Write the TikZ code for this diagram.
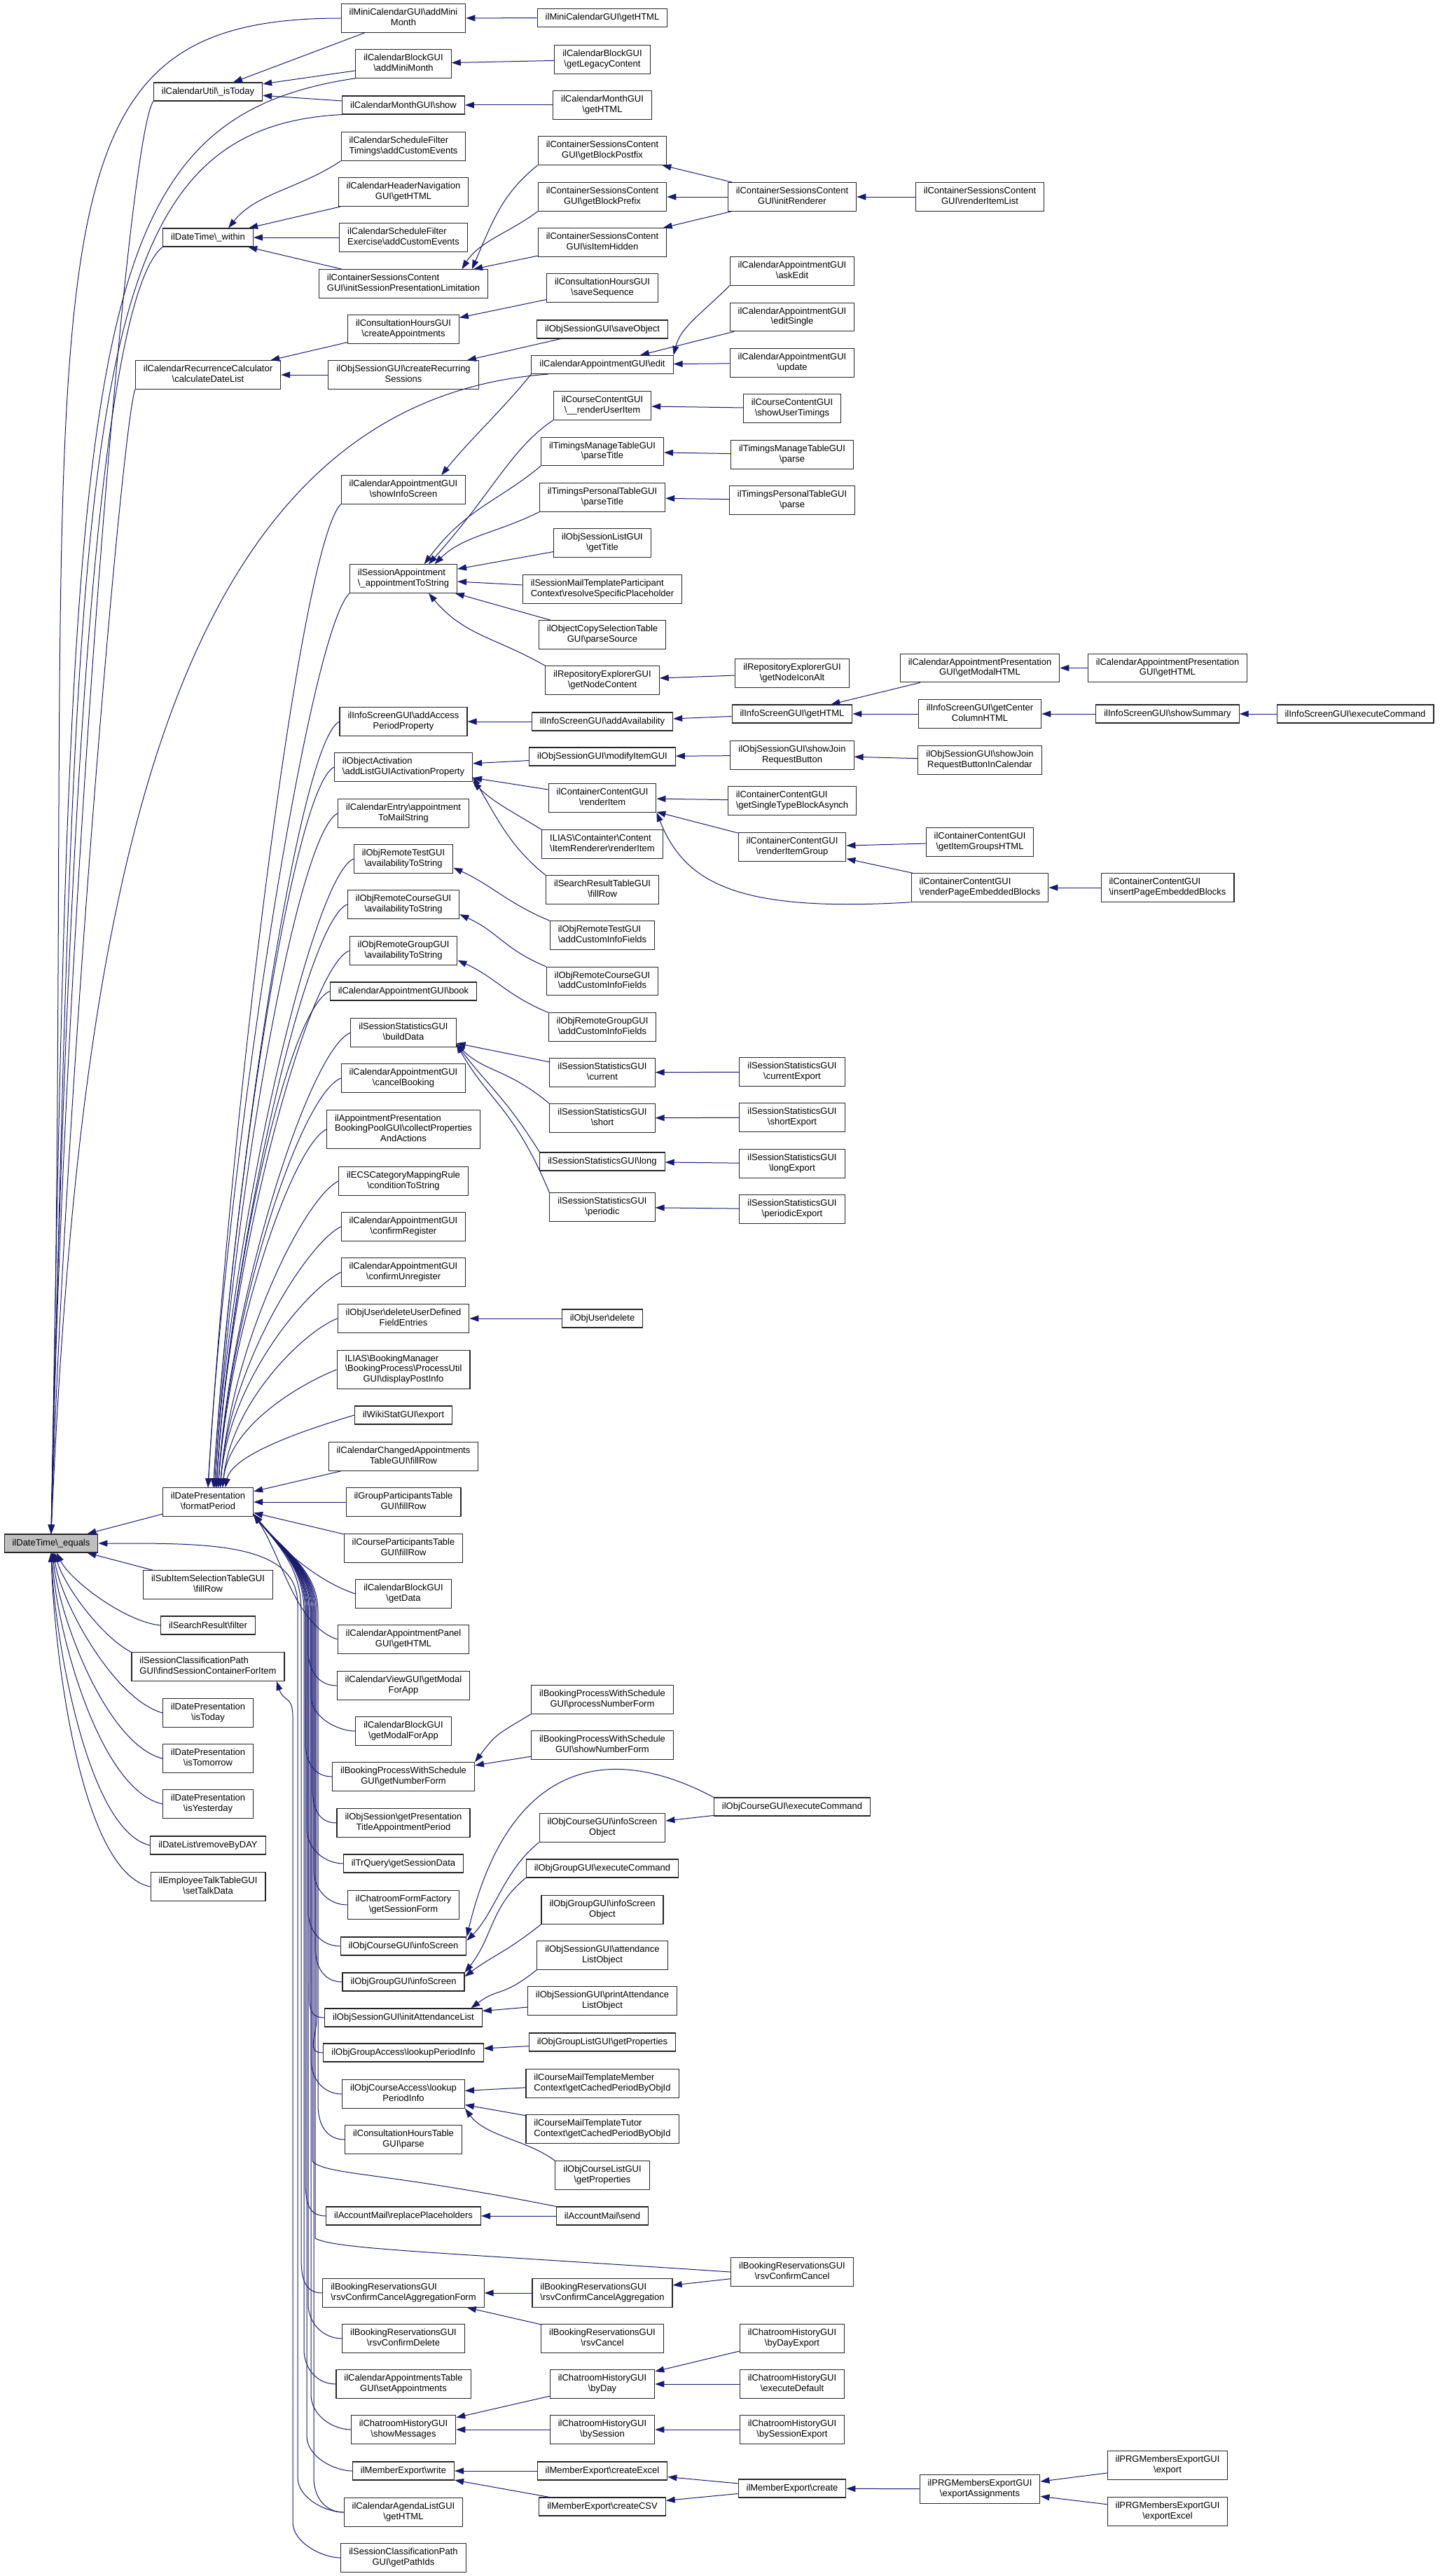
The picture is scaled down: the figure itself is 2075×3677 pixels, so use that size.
\documentclass[tikz,border=0pt]{standalone}
\usepackage{fontspec}
\setmainfont{Liberation Sans}
\usetikzlibrary{arrows.meta}
\definecolor{edgeblue}{HTML}{191970}
\definecolor{mainfill}{HTML}{BFBFBF}
\newcommand\bsh{\textbackslash}
\newcommand\lbtwo[2]{\begin{tabular}{@{}c@{}}\multicolumn{1}{@{}l@{}}{#1}\\#2\end{tabular}}
\newcommand\lbthree[3]{\begin{tabular}{@{}c@{}}\multicolumn{1}{@{}l@{}}{#1}\\\multicolumn{1}{@{}l@{}}{#2}\\#3\end{tabular}}

\begin{document}
\begin{tikzpicture}[x=1pt, y=-1pt,
  fn/.style={draw=black!85, line width=1.1pt, fill=white, inner xsep=11.5pt, inner ysep=2pt, minimum height=26pt, font=\fontsize{13}{14.6}\selectfont},
  fntwo/.style={fn, minimum height=40.5pt},
  fnthree/.style={fn, minimum height=55pt},
  call/.style={draw=edgeblue, line width=1pt, -{Triangle[length=13pt,width=9pt]}}]
\useasboundingbox (0,0) rectangle (2075,3677);

\node[fn, fill=mainfill] (eq) at (73,2203) {ilDateTime\bsh\_equals};

\node[fn] (isToday) at (297,131) {ilCalendarUtil\bsh\_isToday};
\node[fn] (within) at (297,339) {ilDateTime\bsh\_within};
\node[fntwo] (dateList) at (297,535) {\lbtwo{ilCalendarRecurrenceCalculator}{\bsh calculateDateList}};
\node[fntwo] (fp) at (297,2144) {\lbtwo{ilDatePresentation}{\bsh formatPeriod}};
\node[fntwo] (subItem) at (297,2262) {\lbtwo{ilSubItemSelectionTableGUI}{\bsh fillRow}};
\node[fn] (searchFilter) at (297,2320) {ilSearchResult\bsh filter};
\node[fntwo] (findContainer) at (297,2379) {\lbtwo{ilSessionClassificationPath}{GUI\bsh findSessionContainerForItem}};
\node[fntwo] (presToday) at (297,2445) {\lbtwo{ilDatePresentation}{\bsh isToday}};
\node[fntwo] (presTomorrow) at (297,2510) {\lbtwo{ilDatePresentation}{\bsh isTomorrow}};
\node[fntwo] (presYesterday) at (297,2575) {\lbtwo{ilDatePresentation}{\bsh isYesterday}};
\node[fn] (removeByDay) at (297,2634) {ilDateList\bsh removeByDAY};
\node[fntwo] (talkData) at (297,2693) {\lbtwo{ilEmployeeTalkTableGUI}{\bsh setTalkData}};

\node[fntwo] (miniAdd) at (576,26) {\lbtwo{ilMiniCalendarGUI\bsh addMini}{Month}};
\node[fntwo] (blockAdd) at (576,91) {\lbtwo{ilCalendarBlockGUI}{\bsh addMiniMonth}};
\node[fn] (monthShow) at (576,150) {ilCalendarMonthGUI\bsh show};
\node[fntwo] (filterTimings) at (576,209) {\lbtwo{ilCalendarScheduleFilter}{Timings\bsh addCustomEvents}};
\node[fntwo] (headerNav) at (576,274) {\lbtwo{ilCalendarHeaderNavigation}{GUI\bsh getHTML}};
\node[fntwo] (filterExercise) at (576,339) {\lbtwo{ilCalendarScheduleFilter}{Exercise\bsh addCustomEvents}};
\node[fntwo] (initLimit) at (576,405) {\lbtwo{ilContainerSessionsContent}{GUI\bsh initSessionPresentationLimitation}};
\node[fntwo] (createAppt) at (576,470) {\lbtwo{ilConsultationHoursGUI}{\bsh createAppointments}};
\node[fntwo] (createRecurring) at (576,535) {\lbtwo{ilObjSessionGUI\bsh createRecurring}{Sessions}};
\node[fntwo] (showInfo) at (576,699) {\lbtwo{ilCalendarAppointmentGUI}{\bsh showInfoScreen}};
\node[fntwo] (apptStr) at (576,826) {\lbtwo{ilSessionAppointment}{\bsh\_appointmentToString}};
\node[fntwo] (addAccess) at (576,1030) {\lbtwo{ilInfoScreenGUI\bsh addAccess}{PeriodProperty}};
\node[fntwo] (activation) at (576,1095) {\lbtwo{ilObjectActivation}{\bsh addListGUIActivationProperty}};
\node[fntwo] (mailString) at (576,1161) {\lbtwo{ilCalendarEntry\bsh appointment}{ToMailString}};
\node[fntwo] (remoteTest) at (576,1226) {\lbtwo{ilObjRemoteTestGUI}{\bsh availabilityToString}};
\node[fntwo] (remoteCourse) at (576,1291) {\lbtwo{ilObjRemoteCourseGUI}{\bsh availabilityToString}};
\node[fntwo] (remoteGroup) at (576,1357) {\lbtwo{ilObjRemoteGroupGUI}{\bsh availabilityToString}};
\node[fn] (book) at (576,1415) {ilCalendarAppointmentGUI\bsh book};
\node[fntwo] (buildData) at (576,1474) {\lbtwo{ilSessionStatisticsGUI}{\bsh buildData}};
\node[fntwo] (cancelBooking) at (576,1539) {\lbtwo{ilCalendarAppointmentGUI}{\bsh cancelBooking}};
\node[fnthree] (collectProps) at (576,1612) {\lbthree{ilAppointmentPresentation}{BookingPoolGUI\bsh collectProperties}{AndActions}};
\node[fntwo] (condToString) at (576,1686) {\lbtwo{ilECSCategoryMappingRule}{\bsh conditionToString}};
\node[fntwo] (confirmReg) at (576,1751) {\lbtwo{ilCalendarAppointmentGUI}{\bsh confirmRegister}};
\node[fntwo] (confirmUnreg) at (576,1816) {\lbtwo{ilCalendarAppointmentGUI}{\bsh confirmUnregister}};
\node[fntwo] (deleteUDF) at (576,1882) {\lbtwo{ilObjUser\bsh deleteUserDefined}{FieldEntries}};
\node[fnthree] (postInfo) at (576,1955) {\lbthree{ILIAS\bsh BookingManager}{\bsh BookingProcess\bsh ProcessUtil}{GUI\bsh displayPostInfo}};
\node[fn] (wikiExport) at (576,2020) {ilWikiStatGUI\bsh export};
\node[fntwo] (changedAppts) at (576,2079) {\lbtwo{ilCalendarChangedAppointments}{TableGUI\bsh fillRow}};
\node[fntwo] (groupPart) at (576,2144) {\lbtwo{ilGroupParticipantsTable}{GUI\bsh fillRow}};
\node[fntwo] (coursePart) at (576,2210) {\lbtwo{ilCourseParticipantsTable}{GUI\bsh fillRow}};
\node[fntwo] (blockData) at (576,2275) {\lbtwo{ilCalendarBlockGUI}{\bsh getData}};
\node[fntwo] (panelHTML) at (576,2340) {\lbtwo{ilCalendarAppointmentPanel}{GUI\bsh getHTML}};
\node[fntwo] (viewModal) at (576,2406) {\lbtwo{ilCalendarViewGUI\bsh getModal}{ForApp}};
\node[fntwo] (blockModal) at (576,2471) {\lbtwo{ilCalendarBlockGUI}{\bsh getModalForApp}};
\node[fntwo] (numberForm) at (576,2536) {\lbtwo{ilBookingProcessWithSchedule}{GUI\bsh getNumberForm}};
\node[fntwo] (presTitle) at (576,2602) {\lbtwo{ilObjSession\bsh getPresentation}{TitleAppointmentPeriod}};
\node[fn] (trQuery) at (576,2660) {ilTrQuery\bsh getSessionData};
\node[fntwo] (chatForm) at (576,2719) {\lbtwo{ilChatroomFormFactory}{\bsh getSessionForm}};
\node[fn] (courseInfo) at (576,2778) {ilObjCourseGUI\bsh infoScreen};
\node[fn] (groupInfo) at (576,2829) {ilObjGroupGUI\bsh infoScreen};
\node[fn] (initAttend) at (576,2880) {ilObjSessionGUI\bsh initAttendanceList};
\node[fn] (groupLookup) at (576,2930) {ilObjGroupAccess\bsh lookupPeriodInfo};
\node[fntwo] (courseLookup) at (576,2989) {\lbtwo{ilObjCourseAccess\bsh lookup}{PeriodInfo}};
\node[fntwo] (consultParse) at (576,3054) {\lbtwo{ilConsultationHoursTable}{GUI\bsh parse}};
\node[fn] (replaceph) at (576,3163) {ilAccountMail\bsh replacePlaceholders};
\node[fntwo] (cancelAggForm) at (576,3273) {\lbtwo{ilBookingReservationsGUI}{\bsh rsvConfirmCancelAggregationForm}};
\node[fntwo] (confirmDelete) at (576,3338) {\lbtwo{ilBookingReservationsGUI}{\bsh rsvConfirmDelete}};
\node[fntwo] (setAppts) at (576,3403) {\lbtwo{ilCalendarAppointmentsTable}{GUI\bsh setAppointments}};
\node[fntwo] (showMessages) at (576,3468) {\lbtwo{ilChatroomHistoryGUI}{\bsh showMessages}};
\node[fn] (memberWrite) at (576,3527) {ilMemberExport\bsh write};
\node[fntwo] (agendaHTML) at (576,3586) {\lbtwo{ilCalendarAgendaListGUI}{\bsh getHTML}};
\node[fntwo] (pathIds) at (576,3651) {\lbtwo{ilSessionClassificationPath}{GUI\bsh getPathIds}};

\node[fn] (miniHTML) at (860,25.5) {ilMiniCalendarGUI\bsh getHTML};
\node[fntwo] (blockLegacy) at (860,85) {\lbtwo{ilCalendarBlockGUI}{\bsh getLegacyContent}};
\node[fntwo] (monthHTML) at (860,150) {\lbtwo{ilCalendarMonthGUI}{\bsh getHTML}};
\node[fntwo] (blockPostfix) at (860,215) {\lbtwo{ilContainerSessionsContent}{GUI\bsh getBlockPostfix}};
\node[fntwo] (blockPrefix) at (860,281) {\lbtwo{ilContainerSessionsContent}{GUI\bsh getBlockPrefix}};
\node[fntwo] (itemHidden) at (860,346) {\lbtwo{ilContainerSessionsContent}{GUI\bsh isItemHidden}};
\node[fntwo] (saveSeq) at (860,411) {\lbtwo{ilConsultationHoursGUI}{\bsh saveSequence}};
\node[fn] (saveObject) at (860,470) {ilObjSessionGUI\bsh saveObject};
\node[fn] (apptEdit) at (860,520.5) {ilCalendarAppointmentGUI\bsh edit};
\node[fntwo] (renderUserItem) at (860,579) {\lbtwo{ilCourseContentGUI}{\bsh\_\_renderUserItem}};
\node[fntwo] (manageTitle) at (860,644.5) {\lbtwo{ilTimingsManageTableGUI}{\bsh parseTitle}};
\node[fntwo] (personalTitle) at (860,710) {\lbtwo{ilTimingsPersonalTableGUI}{\bsh parseTitle}};
\node[fntwo] (sessionListTitle) at (860,775) {\lbtwo{ilObjSessionListGUI}{\bsh getTitle}};
\node[fntwo] (resolvePh) at (860,841) {\lbtwo{ilSessionMailTemplateParticipant}{Context\bsh resolveSpecificPlaceholder}};
\node[fntwo] (copyParse) at (860,906) {\lbtwo{ilObjectCopySelectionTable}{GUI\bsh parseSource}};
\node[fntwo] (repoContent) at (860,971) {\lbtwo{ilRepositoryExplorerGUI}{\bsh getNodeContent}};
\node[fn] (addAvail) at (860,1030) {ilInfoScreenGUI\bsh addAvailability};
\node[fn] (modifyItem) at (860,1080) {ilObjSessionGUI\bsh modifyItemGUI};
\node[fntwo] (renderItem) at (860,1139) {\lbtwo{ilContainerContentGUI}{\bsh renderItem}};
\node[fntwo] (itemRenderer) at (860,1205) {\lbtwo{ILIAS\bsh Containter\bsh Content}{\bsh ItemRenderer\bsh renderItem}};
\node[fntwo] (searchFill) at (860,1270) {\lbtwo{ilSearchResultTableGUI}{\bsh fillRow}};
\node[fntwo] (remoteTestF) at (860,1335) {\lbtwo{ilObjRemoteTestGUI}{\bsh addCustomInfoFields}};
\node[fntwo] (remoteCourseF) at (860,1400.5) {\lbtwo{ilObjRemoteCourseGUI}{\bsh addCustomInfoFields}};
\node[fntwo] (remoteGroupF) at (860,1466) {\lbtwo{ilObjRemoteGroupGUI}{\bsh addCustomInfoFields}};
\node[fntwo] (statCurrent) at (860,1531) {\lbtwo{ilSessionStatisticsGUI}{\bsh current}};
\node[fntwo] (statShort) at (860,1596) {\lbtwo{ilSessionStatisticsGUI}{\bsh short}};
\node[fn] (statLong) at (860,1658) {ilSessionStatisticsGUI\bsh long};
\node[fntwo] (statPeriodic) at (860,1723) {\lbtwo{ilSessionStatisticsGUI}{\bsh periodic}};
\node[fn] (userDelete) at (860,1882) {ilObjUser\bsh delete};
\node[fntwo] (processNumber) at (860,2426) {\lbtwo{ilBookingProcessWithSchedule}{GUI\bsh processNumberForm}};
\node[fntwo] (showNumber) at (860,2491) {\lbtwo{ilBookingProcessWithSchedule}{GUI\bsh showNumberForm}};
\node[fntwo] (courseInfoObj) at (860,2609) {\lbtwo{ilObjCourseGUI\bsh infoScreen}{Object}};
\node[fn] (groupExec) at (860,2667) {ilObjGroupGUI\bsh executeCommand};
\node[fntwo] (groupInfoObj) at (860,2726) {\lbtwo{ilObjGroupGUI\bsh infoScreen}{Object}};
\node[fntwo] (attendObj) at (860,2791) {\lbtwo{ilObjSessionGUI\bsh attendance}{ListObject}};
\node[fntwo] (printAttend) at (860,2856) {\lbtwo{ilObjSessionGUI\bsh printAttendance}{ListObject}};
\node[fn] (groupListProps) at (860,2915) {ilObjGroupListGUI\bsh getProperties};
\node[fntwo] (memberCtx) at (860,2974) {\lbtwo{ilCourseMailTemplateMember}{Context\bsh getCachedPeriodByObjId}};
\node[fntwo] (tutorCtx) at (860,3039) {\lbtwo{ilCourseMailTemplateTutor}{Context\bsh getCachedPeriodByObjId}};
\node[fntwo] (courseListProps) at (860,3105) {\lbtwo{ilObjCourseListGUI}{\bsh getProperties}};
\node[fn] (mailSend) at (860,3163) {ilAccountMail\bsh send};
\node[fntwo] (cancelAgg) at (860,3273) {\lbtwo{ilBookingReservationsGUI}{\bsh rsvConfirmCancelAggregation}};
\node[fntwo] (rsvCancel) at (860,3338) {\lbtwo{ilBookingReservationsGUI}{\bsh rsvCancel}};
\node[fntwo] (byDay) at (860,3403) {\lbtwo{ilChatroomHistoryGUI}{\bsh byDay}};
\node[fntwo] (bySession) at (860,3468) {\lbtwo{ilChatroomHistoryGUI}{\bsh bySession}};
\node[fn] (createExcel) at (860,3527) {ilMemberExport\bsh createExcel};
\node[fn] (createCSV) at (860,3578) {ilMemberExport\bsh createCSV};

\node[fntwo] (initRenderer) at (1131,281) {\lbtwo{ilContainerSessionsContent}{GUI\bsh initRenderer}};
\node[fntwo] (askEdit) at (1131,387) {\lbtwo{ilCalendarAppointmentGUI}{\bsh askEdit}};
\node[fntwo] (editSingle) at (1131,452.5) {\lbtwo{ilCalendarAppointmentGUI}{\bsh editSingle}};
\node[fntwo] (update) at (1131,518) {\lbtwo{ilCalendarAppointmentGUI}{\bsh update}};
\node[fntwo] (showUserTimings) at (1131,583) {\lbtwo{ilCourseContentGUI}{\bsh showUserTimings}};
\node[fntwo] (manageParse) at (1131,649) {\lbtwo{ilTimingsManageTableGUI}{\bsh parse}};
\node[fntwo] (personalParse) at (1131,714) {\lbtwo{ilTimingsPersonalTableGUI}{\bsh parse}};
\node[fntwo] (nodeIconAlt) at (1131,961) {\lbtwo{ilRepositoryExplorerGUI}{\bsh getNodeIconAlt}};
\node[fn] (infoHTML) at (1131,1019) {ilInfoScreenGUI\bsh getHTML};
\node[fntwo] (showJoin) at (1131,1078) {\lbtwo{ilObjSessionGUI\bsh showJoin}{RequestButton}};
\node[fntwo] (singleType) at (1131,1143) {\lbtwo{ilContainerContentGUI}{\bsh getSingleTypeBlockAsynch}};
\node[fntwo] (renderItemGroup) at (1131,1209) {\lbtwo{ilContainerContentGUI}{\bsh renderItemGroup}};
\node[fntwo] (currentExport) at (1131,1530) {\lbtwo{ilSessionStatisticsGUI}{\bsh currentExport}};
\node[fntwo] (shortExport) at (1131,1595) {\lbtwo{ilSessionStatisticsGUI}{\bsh shortExport}};
\node[fntwo] (longExport) at (1131,1661) {\lbtwo{ilSessionStatisticsGUI}{\bsh longExport}};
\node[fntwo] (periodicExport) at (1131,1726) {\lbtwo{ilSessionStatisticsGUI}{\bsh periodicExport}};
\node[fn] (courseExec) at (1131,2579) {ilObjCourseGUI\bsh executeCommand};
\node[fntwo] (rsvConfirmCancel) at (1131,3243) {\lbtwo{ilBookingReservationsGUI}{\bsh rsvConfirmCancel}};
\node[fntwo] (byDayExport) at (1131,3338) {\lbtwo{ilChatroomHistoryGUI}{\bsh byDayExport}};
\node[fntwo] (execDefault) at (1131,3403) {\lbtwo{ilChatroomHistoryGUI}{\bsh executeDefault}};
\node[fntwo] (bySessionExport) at (1131,3468) {\lbtwo{ilChatroomHistoryGUI}{\bsh bySessionExport}};
\node[fn] (memberCreate) at (1131,3552) {ilMemberExport\bsh create};

\node[fntwo] (renderItemList) at (1399,281) {\lbtwo{ilContainerSessionsContent}{GUI\bsh renderItemList}};
\node[fntwo] (modalHTML) at (1399,953.5) {\lbtwo{ilCalendarAppointmentPresentation}{GUI\bsh getModalHTML}};
\node[fntwo] (centerCol) at (1399,1019) {\lbtwo{ilInfoScreenGUI\bsh getCenter}{ColumnHTML}};
\node[fntwo] (showJoinCal) at (1399,1085) {\lbtwo{ilObjSessionGUI\bsh showJoin}{RequestButtonInCalendar}};
\node[fntwo] (itemGroupsHTML) at (1399,1202) {\lbtwo{ilContainerContentGUI}{\bsh getItemGroupsHTML}};
\node[fntwo] (renderPageEmb) at (1399,1267) {\lbtwo{ilContainerContentGUI}{\bsh renderPageEmbeddedBlocks}};
\node[fntwo] (exportAssign) at (1399,3553) {\lbtwo{ilPRGMembersExportGUI}{\bsh exportAssignments}};

\node[fntwo] (apptPresHTML) at (1667,953.5) {\lbtwo{ilCalendarAppointmentPresentation}{GUI\bsh getHTML}};
\node[fn] (showSummary) at (1667,1019) {ilInfoScreenGUI\bsh showSummary};
\node[fntwo] (insertPageEmb) at (1667,1267) {\lbtwo{ilContainerContentGUI}{\bsh insertPageEmbeddedBlocks}};
\node[fntwo] (prgExport) at (1667,3519) {\lbtwo{ilPRGMembersExportGUI}{\bsh export}};
\node[fntwo] (prgExportExcel) at (1667,3585) {\lbtwo{ilPRGMembersExportGUI}{\bsh exportExcel}};

\node[fn] (infoExec) at (1935,1019) {ilInfoScreenGUI\bsh executeCommand};

\draw[call] (miniHTML) -- (miniAdd);
\draw[call] (blockLegacy) -- (blockAdd);
\draw[call] (monthHTML) -- (monthShow);
\draw[call] (miniAdd) -- (isToday);
\draw[call] (blockAdd) -- (isToday);
\draw[call] (monthShow) -- (isToday);
\draw[call] (filterTimings.south west) .. controls +(-60,40) and +(40,-50) .. (within.25);
\draw[call] (headerNav) -- (within);
\draw[call] (filterExercise) -- (within);
\draw[call] (initLimit) -- (within);
\draw[call] (blockPostfix.south west) .. controls +(-50,40) and +(30,-70) .. (initLimit.12);
\draw[call] (blockPrefix.south west) .. controls +(-40,30) and +(25,-40) .. (initLimit.14);
\draw[call] (itemHidden) -- (initLimit);
\draw[call] (initRenderer) -- (blockPostfix);
\draw[call] (initRenderer) -- (blockPrefix);
\draw[call] (initRenderer) -- (itemHidden);
\draw[call] (renderItemList) -- (initRenderer);
\draw[call] (saveSeq) -- (createAppt);
\draw[call] (createAppt) -- (dateList);
\draw[call] (createRecurring) -- (dateList);
\draw[call] (saveObject) -- (createRecurring);
\draw[call] (askEdit.south west) .. controls +(-40,40) and +(10,-40) .. (apptEdit.north east);
\draw[call] (editSingle) -- (apptEdit);
\draw[call] (update) -- (apptEdit);
\draw[call] (apptEdit.south west) .. controls +(-40,50) and +(40,-50) .. (showInfo.21);
\draw[call] (showUserTimings) -- (renderUserItem);
\draw[call] (manageParse) -- (manageTitle);
\draw[call] (personalParse) -- (personalTitle);
\draw[call] (nodeIconAlt) -- (repoContent);
\draw[call] (renderUserItem.south west) .. controls +(-60,40) and +(90,-100) .. (apptStr.30);
\draw[call] (manageTitle.south west) .. controls +(-60,50) and +(60,-80) .. (apptStr.35);
\draw[call] (personalTitle.south west) .. controls +(-60,30) and +(40,-40) .. (apptStr.25);
\draw[call] (sessionListTitle) -- (apptStr);
\draw[call] (resolvePh) -- (apptStr);
\draw[call] (copyParse) -- (apptStr);
\draw[call] (repoContent.north west) .. controls +(-70,-40) and +(50,60) .. (apptStr.-30);
\draw[call] (addAvail) -- (addAccess);
\draw[call] (infoHTML) -- (addAvail);
\draw[call] (modalHTML) -- (infoHTML);
\draw[call] (apptPresHTML) -- (modalHTML);
\draw[call] (centerCol) -- (infoHTML);
\draw[call] (showSummary) -- (centerCol);
\draw[call] (infoExec) -- (showSummary);
\draw[call] (modifyItem) -- (activation);
\draw[call] (showJoin) -- (modifyItem);
\draw[call] (showJoinCal) -- (showJoin);
\draw[call] (renderItem) -- (activation);
\draw[call] (itemRenderer.north west) .. controls +(-40,-25) and +(30,30) .. (activation.south east);
\draw[call] (searchFill.north west) .. controls +(-50,-40) and +(35,60) .. (activation.-8);
\draw[call] (singleType) -- (renderItem);
\draw[call] (renderItemGroup) -- (renderItem);
\draw[call] (renderPageEmb.south west) .. controls +(-250,15) and +(40,100) .. (renderItem.south east);
\draw[call] (itemGroupsHTML) -- (renderItemGroup);
\draw[call] (renderPageEmb) -- (renderItemGroup);
\draw[call] (insertPageEmb) -- (renderPageEmb);
\draw[call] (remoteTestF.north west) .. controls +(-60,-25) and +(55,25) .. (remoteTest.-10);
\draw[call] (remoteCourseF.north west) .. controls +(-60,-25) and +(55,25) .. (remoteCourse.-10);
\draw[call] (remoteGroupF.north west) .. controls +(-60,-25) and +(55,25) .. (remoteGroup.-10);
\draw[call] (statCurrent) -- (buildData);
\draw[call] (statShort.north west) .. controls +(-60,-50) and +(40,40) .. (buildData.-12);
\draw[call] (statLong.north west) .. controls +(-50,-80) and +(45,60) .. (buildData.-12);
\draw[call] (statPeriodic.north west) .. controls +(-50,-120) and +(45,80) .. (buildData.-12);
\draw[call] (currentExport) -- (statCurrent);
\draw[call] (shortExport) -- (statShort);
\draw[call] (longExport) -- (statLong);
\draw[call] (periodicExport) -- (statPeriodic);
\draw[call] (userDelete) -- (deleteUDF);
\draw[call] (processNumber.south west) .. controls +(-50,30) and +(30,-40) .. (numberForm.north east);
\draw[call] (showNumber) -- (numberForm);
\draw[call] (courseExec.north west) .. controls +(-150,-80) and +(60,-250) .. (courseInfo.north east);
\draw[call] (courseExec) -- (courseInfoObj);
\draw[call] (courseInfoObj.south west) .. controls +(-50,40) and +(40,-40) .. (courseInfo.5);
\draw[call] (groupExec.south west) .. controls +(-50,40) and +(40,-50) .. (groupInfo.north east);
\draw[call] (groupInfoObj.south west) .. controls +(-50,40) and +(40,-30) .. (groupInfo.5);
\draw[call] (attendObj.south west) .. controls +(-50,40) and +(40,-30) .. (initAttend.8);
\draw[call] (printAttend) -- (initAttend);
\draw[call] (groupListProps) -- (groupLookup);
\draw[call] (memberCtx) -- (courseLookup);
\draw[call] (tutorCtx) -- (courseLookup);
\draw[call] (courseListProps.north west) .. controls +(-40,-30) and +(30,40) .. (courseLookup.south east);
\draw[call] (mailSend) -- (replaceph);
\draw[call] (cancelAgg) -- (cancelAggForm);
\draw[call] (rsvCancel) -- (cancelAggForm);
\draw[call] (rsvConfirmCancel) -- (cancelAgg);
\draw[call] (byDay) -- (showMessages);
\draw[call] (bySession) -- (showMessages);
\draw[call] (byDayExport) -- (byDay);
\draw[call] (execDefault) -- (byDay);
\draw[call] (bySessionExport) -- (bySession);
\draw[call] (createExcel) -- (memberWrite);
\draw[call] (createCSV) -- (memberWrite);
\draw[call] (memberCreate) -- (createExcel);
\draw[call] (memberCreate) -- (createCSV);
\draw[call] (exportAssign) -- (memberCreate);
\draw[call] (prgExport) -- (exportAssign);
\draw[call] (prgExportExcel) -- (exportAssign);

\draw[call] (miniAdd.west) .. controls +(-500,0) and +(40,-1800) .. (eq.north);
\draw[call] (isToday.south west) .. controls +(-40,60) and +(15,-800) .. (eq.north);
\draw[call] (blockAdd.south west) .. controls +(-400,60) and +(30,-1700) .. (eq.north);
\draw[call] (monthShow.south west) .. controls +(-380,20) and +(40,-1600) .. (eq.north);
\draw[call] (within.south west) .. controls +(-100,80) and +(20,-900) .. (eq.north);
\draw[call] (dateList.south west) .. controls +(-20,60) and +(18,-600) .. (eq.north);
\draw[call] (apptEdit.-170) .. controls +(-550,40) and +(40,-900) .. (eq.north);
\draw[call] (fp) -- (eq);
\draw[call] (subItem) -- (eq);
\draw[call] (searchFilter.west) .. controls +(-50,-5) and +(20,40) .. (eq.-60);
\draw[call] (findContainer.north west) .. controls +(-40,-20) and +(15,50) .. (eq.-70);
\draw[call] (presToday.west) .. controls +(-70,-20) and +(10,70) .. (eq.-75);
\draw[call] (presTomorrow.west) .. controls +(-80,-20) and +(8,90) .. (eq.-80);
\draw[call] (presYesterday.west) .. controls +(-90,-20) and +(6,110) .. (eq.-85);
\draw[call] (removeByDay.west) .. controls +(-90,-20) and +(5,120) .. (eq.south);
\draw[call] (talkData.west) .. controls +(-100,-20) and +(4,140) .. (eq.south);
\draw[call] (agendaHTML.west) .. controls +(-25,0) and +(0,30) .. (425,3536) -- (425,2290) .. controls +(0,-90) and +(150,0) .. (eq.east);
\draw[call] (pathIds.west) .. controls +(-25,0) and +(0,30) .. (418,3600) -- (418,2450) .. controls +(0,-30) and +(10,30) .. (findContainer.-12);

\draw[call] (showInfo.south west) .. controls +(-60,60) and +(30,-500) .. (fp.north);
\draw[call] (apptStr.south west) .. controls +(-60,60) and +(25,-450) .. (fp.north);
\draw[call] (addAccess.west) .. controls +(-60,30) and +(25,-400) .. (fp.70);
\draw[call] (activation.west) .. controls +(-60,30) and +(25,-400) .. (fp.70);
\draw[call] (mailString.west) .. controls +(-60,30) and +(22,-380) .. (fp.65);
\draw[call] (remoteTest.west) .. controls +(-60,25) and +(20,-350) .. (fp.65);
\draw[call] (remoteCourse.west) .. controls +(-60,25) and +(18,-320) .. (fp.60);
\draw[call] (remoteGroup.west) .. controls +(-60,25) and +(18,-320) .. (fp.60);
\draw[call] (book.west) .. controls +(-60,25) and +(18,-300) .. (fp.60);
\draw[call] (buildData.west) .. controls +(-60,25) and +(15,-260) .. (fp.55);
\draw[call] (cancelBooking.west) .. controls +(-60,25) and +(15,-240) .. (fp.55);
\draw[call] (collectProps.west) .. controls +(-50,25) and +(15,-220) .. (fp.55);
\draw[call] (condToString.west) .. controls +(-50,25) and +(15,-200) .. (fp.50);
\draw[call] (confirmReg.west) .. controls +(-50,25) and +(12,-170) .. (fp.50);
\draw[call] (confirmUnreg.west) .. controls +(-50,25) and +(12,-150) .. (fp.50);
\draw[call] (deleteUDF.west) .. controls +(-50,20) and +(12,-120) .. (fp.45);
\draw[call] (postInfo.west) .. controls +(-50,20) and +(10,-90) .. (fp.45);
\draw[call] (wikiExport.west) .. controls +(-50,15) and +(10,-50) .. (fp.40);
\draw[call] (changedAppts) -- (fp);
\draw[call] (groupPart) -- (fp);
\draw[call] (coursePart) -- (fp);
\draw[call] (blockData.west) .. controls +(-60,-20) and +(30,40) .. (fp.-15);
\draw[call] (panelHTML.west) .. controls +(-60,-20) and +(40,60) .. (fp.-15);
\draw[call] (viewModal.west) .. controls +(-25,0) and +(0,30) .. (440,2356) -- (440,2300) .. controls +(0,-60) and +(40,50) .. (fp.-15);
\draw[call] (blockModal.west) .. controls +(-25,0) and +(0,30) .. (444,2421) -- (444,2300) .. controls +(0,-60) and +(40,50) .. (fp.-15);
\draw[call] (numberForm.west) .. controls +(-25,0) and +(0,30) .. (436,2486) -- (436,2300) .. controls +(0,-60) and +(40,50) .. (fp.-15);
\draw[call] (presTitle.west) .. controls +(-25,0) and +(0,30) .. (446,2552) -- (446,2300) .. controls +(0,-60) and +(40,50) .. (fp.-15);
\draw[call] (trQuery.west) .. controls +(-25,0) and +(0,30) .. (438,2610) -- (438,2300) .. controls +(0,-60) and +(40,50) .. (fp.-15);
\draw[call] (chatForm.west) .. controls +(-25,0) and +(0,30) .. (448,2669) -- (448,2300) .. controls +(0,-60) and +(40,50) .. (fp.-15);
\draw[call] (courseInfo.west) .. controls +(-25,0) and +(0,30) .. (440,2728) -- (440,2300) .. controls +(0,-60) and +(40,50) .. (fp.-15);
\draw[call] (groupInfo.west) .. controls +(-25,0) and +(0,30) .. (450,2779) -- (450,2300) .. controls +(0,-60) and +(40,50) .. (fp.-15);
\draw[call] (initAttend.west) .. controls +(-25,0) and +(0,30) .. (442,2830) -- (442,2300) .. controls +(0,-60) and +(40,50) .. (fp.-15);
\draw[call] (groupLookup.west) .. controls +(-25,0) and +(0,30) .. (452,2880) -- (452,2300) .. controls +(0,-60) and +(40,50) .. (fp.-15);
\draw[call] (courseLookup.west) .. controls +(-25,0) and +(0,30) .. (444,2939) -- (444,2300) .. controls +(0,-60) and +(40,50) .. (fp.-15);
\draw[call] (consultParse.west) .. controls +(-25,0) and +(0,30) .. (454,3004) -- (454,2300) .. controls +(0,-60) and +(40,50) .. (fp.-15);
\draw[call] (replaceph.west) .. controls +(-25,0) and +(0,30) .. (436,3113) -- (436,2300) .. controls +(0,-60) and +(40,50) .. (fp.-15);
\draw[call] (mailSend.north west) .. controls +(-250,-50) and +(20,20) .. (446,3085) -- (446,2300) .. controls +(0,-60) and +(40,50) .. (fp.-15);
\draw[call] (rsvConfirmCancel.west) .. controls +(-450,-30) and +(30,15) .. (450,3195) -- (450,2300) .. controls +(0,-60) and +(40,50) .. (fp.-15);
\draw[call] (cancelAggForm.west) .. controls +(-25,0) and +(0,30) .. (430,3223) -- (430,2300) .. controls +(0,-60) and +(40,50) .. (fp.-15);
\draw[call] (confirmDelete.west) .. controls +(-25,0) and +(0,30) .. (440,3288) -- (440,2300) .. controls +(0,-60) and +(40,50) .. (fp.-15);
\draw[call] (setAppts.west) .. controls +(-25,0) and +(0,30) .. (434,3353) -- (434,2300) .. controls +(0,-60) and +(40,50) .. (fp.-15);
\draw[call] (showMessages.west) .. controls +(-25,0) and +(0,30) .. (444,3418) -- (444,2300) .. controls +(0,-60) and +(40,50) .. (fp.-15);
\draw[call] (memberWrite.west) .. controls +(-25,0) and +(0,30) .. (438,3477) -- (438,2300) .. controls +(0,-60) and +(40,50) .. (fp.-15);
\draw[call] (agendaHTML.west) .. controls +(-25,0) and +(0,30) .. (448,3536) -- (448,2300) .. controls +(0,-60) and +(40,50) .. (fp.-15);
\end{tikzpicture}
\end{document}
